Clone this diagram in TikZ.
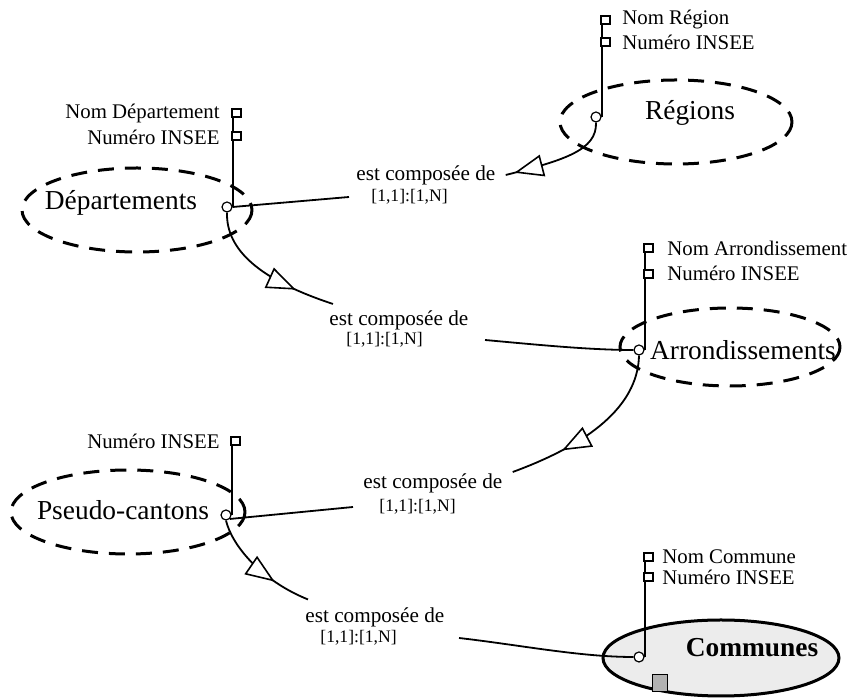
\documentclass[tikz,border=0pt]{standalone}
\usepackage{fontspec}
\setmainfont{Liberation Serif}
\usetikzlibrary{arrows.meta,decorations.markings}

\begin{document}
\begin{tikzpicture}[x=0.5pt,y=-0.5pt,
  ent/.style={font=\fontsize{13.7}{16}\selectfont, inner sep=1pt},
  entline/.style={line width=1.5pt, dash pattern=on 8pt off 5.5pt},
  port/.style={circle, draw, fill=white, line width=0.6pt, inner sep=0pt, minimum size=5pt},
  stem/.style={line width=1pt},
  attbox/.style={line width=0.8pt, fill=white},
  att/.style={font=\fontsize{10.4}{12}\selectfont, inner sep=1pt},
  rel/.style={font=\fontsize{10.6}{12}\selectfont, inner sep=1pt, anchor=west},
  card/.style={font=\fontsize{8.8}{10}\selectfont, inner sep=1pt, anchor=west},
  link/.style={line width=0.9pt},
  tri/.style={postaction={decorate, decoration={markings,
    mark=at position #1 with {\arrow[line width=0.8pt]{Triangle[fill=white,length=14.5pt,width=11pt]}}}}}]
\useasboundingbox (0,0) rectangle (853,699);

% entites
\draw[entline] (676,122) ellipse [x radius=116, y radius=42];
\draw[entline] (137,210) ellipse [x radius=115, y radius=42];
\draw[entline] (730,347) ellipse [x radius=110, y radius=39];
\draw[entline] (128,512) ellipse [x radius=117, y radius=42];
\draw[line width=1.5pt, fill=gray!15] (721,658) ellipse [x radius=118, y radius=38];
\draw[line width=0.5pt, fill=gray!60] (652,675) rectangle (667,692);

\node[ent] (regions) at (690,113) {Régions};
\node[ent] (departements) at (121,203) {Départements};
\node[ent] (arrondissements) at (743,350) {Arrondissements};
\node[ent] (pcantons) at (123,510) {Pseudo-cantons};
\node[ent, font=\fontsize{13.7}{16}\selectfont\bfseries] (communes) at (752,648) {Communes};

% ports
\node[port] (preg) at (596,117) {};
\node[port] (pdep) at (227,207) {};
\node[port] (parr) at (639,350) {};
\node[port] (ppca) at (226,515) {};
\node[port] (pcom) at (639,657) {};

% attributs
\draw[stem] (preg.east) -- ++(0,-101);
\draw[stem] (pdep.east) -- ++(0,-98);
\draw[stem] (parr.east) -- ++(0,-106);
\draw[stem] (ppca.east) -- ++(0,-78);
\draw[stem] (pcom.east) -- ++(0,-104);
\foreach \y in {16,38} \draw[attbox] (601,\y) rectangle ++(9,8);
\foreach \y in {109,132} \draw[attbox] (232,\y) rectangle ++(9,8);
\foreach \y in {244,270} \draw[attbox] (644,\y) rectangle ++(9,8);
\draw[attbox] (231,437) rectangle ++(9,8);
\foreach \y in {553,573} \draw[attbox] (644,\y) rectangle ++(9,8);

\node[att, anchor=west] (regnom) at (620,20) {Nom Région};
\node[att, anchor=west] (regnum) at (620,42) {Numéro INSEE};
\node[att, anchor=east] (depnom) at (222,113) {Nom Département};
\node[att, anchor=east] (depnum) at (222,137) {Numéro INSEE};
\node[att, anchor=west] (arrnom) at (665,248) {Nom Arrondissement};
\node[att, anchor=west] (arrnum) at (665,273) {Numéro INSEE};
\node[att, anchor=east] (pcanum) at (222,441) {Numéro INSEE};
\node[att, anchor=west] (comnom) at (660,557) {Nom Commune};
\node[att, anchor=west] (comnum) at (660,577) {Numéro INSEE};

% liens de composition
\node[rel] (relA) at (354,175) {est composée de};
\node[card] (cardA) at (369,197) {[1,1]:[1,N]};
\node[rel] (relB) at (327,320) {est composée de};
\node[card] (cardB) at (344,340) {[1,1]:[1,N]};
\node[rel] (relC) at (361,483) {est composée de};
\node[card] (cardC) at (377,507) {[1,1]:[1,N]};
\node[rel] (relD) at (303,617) {est composée de};
\node[card] (cardD) at (318,638) {[1,1]:[1,N]};

\draw[link, tri=-4.5pt] (preg.south) .. controls (597,150) and (565,160) .. ([xshift=4pt]relA.east);
\draw[link] (pdep.east) -- ([xshift=-10pt]cardA.west);
\draw[link, tri=-20pt] (pdep.south) .. controls (226,250) and (260,280) .. ([xshift=3pt,yshift=2pt]relB.north west);
\draw[link] ([xshift=30pt]cardB.east) .. controls (540,345) and (590,350) .. (parr.west);
\draw[link, tri=-27pt] (parr.south) .. controls (638,400) and (600,440) .. ([xshift=4pt,yshift=5.5pt]relC.east);
\draw[link] (ppca.south east) -- ([xshift=-12pt]cardC.west);
\draw[link, tri=-19pt] (ppca.south) .. controls (232,545) and (260,580) .. ([xshift=2.5pt,yshift=2.75pt]relD.north west);
\draw[link] ([xshift=30pt]cardD.east) .. controls (520,645) and (580,657) .. (pcom.west);
\end{tikzpicture}
\end{document}
